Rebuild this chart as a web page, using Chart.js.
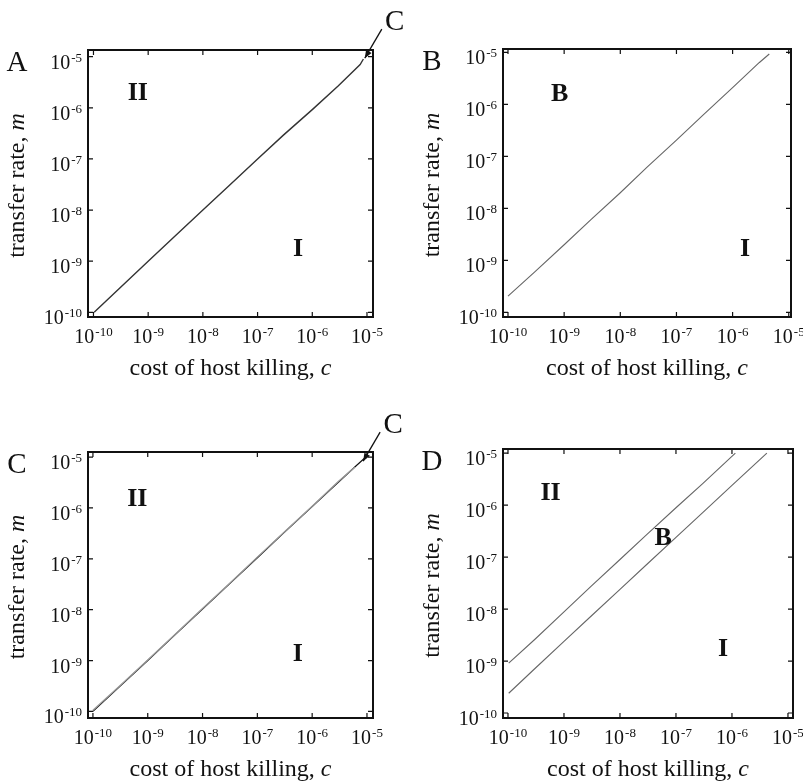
<!DOCTYPE html>
<html><head><meta charset="utf-8">
<script src="https://cdn.jsdelivr.net/npm/chart.js@4/dist/chart.umd.min.js"></script>
<style>
html,body{margin:0;padding:0;background:#fff;}
body{width:803px;height:782px;position:relative;overflow:hidden;}
canvas{position:absolute;}
</style></head><body>
<canvas id="cA" width="410" height="391" style="left:0;top:0"></canvas>
<canvas id="cB" width="403" height="391" style="left:400px;top:0"></canvas>
<canvas id="cC" width="410" height="391" style="left:0;top:391px"></canvas>
<canvas id="cD" width="403" height="391" style="left:400px;top:391px"></canvas>
<script>
// ---- data ----
const tickExponents = [-10, -9, -8, -7, -6, -5];
const xTitle = 'cost of host killing, ';
const xVar = 'c';
const yTitle = 'transfer rate, ';
const yVar = 'm';

// Panel A: boundary between regions I and II
const costA = [1.03e-10, 3e-10, 1e-9, 3e-9, 1e-8, 3e-8, 1e-7, 3e-7, 1e-6, 3e-6, 7.5e-6, 8.6e-6];
const rateA = [1.0e-10, 2.95e-10, 1.0e-9, 3.0e-9, 1.0e-8, 3.0e-8, 1.0e-7, 2.95e-7, 0.92e-6, 2.7e-6, 7.0e-6, 9.0e-6];

// Panel B: boundary between B and I
const costB = [1.0e-10, 3e-10, 1e-9, 3e-9, 1e-8, 3e-8, 1e-7, 3e-7, 1e-6, 3e-6, 4.5e-6];
const rateB = [2.05e-10, 6.0e-10, 2.0e-9, 6.1e-9, 2.0e-8, 6.2e-8, 2.05e-7, 6.3e-7, 2.1e-6, 6.4e-6, 9.3e-6];

// Panel C: two nearly coincident boundaries
const costC1 = [1.0e-10, 3e-10, 1e-9, 3e-9, 1e-8, 3e-8, 1e-7, 3e-7, 1e-6, 3e-6, 6e-6, 9e-6];
const rateC1 = [1.0e-10, 3.0e-10, 1.0e-9, 3.05e-9, 1.03e-8, 3.1e-8, 1.05e-7, 3.2e-7, 1.06e-6, 3.2e-6, 6.4e-6, 9.5e-6];
const costC2 = [1.0e-10, 3e-10, 1e-9, 3e-9, 1e-8, 3e-8, 1e-7, 3e-7, 1e-6, 3e-6, 6e-6];
const rateC2 = [1.05e-10, 3.1e-10, 1.02e-9, 3.1e-9, 1.05e-8, 3.15e-8, 1.08e-7, 3.25e-7, 1.08e-6, 3.3e-6, 6.3e-6];

// Panel D: upper (II / B) and lower (B / I) boundaries
const costDu = [1.03e-10, 3e-10, 1e-9, 3e-9, 1e-8, 3e-8, 1e-7, 3e-7, 1.15e-6];
const rateDu = [9.1e-10, 2.6e-9, 8.8e-9, 2.7e-8, 9.0e-8, 2.7e-7, 8.9e-7, 2.6e-6, 1.0e-5];
const costDl = [1.03e-10, 3e-10, 1e-9, 3e-9, 1e-8, 3e-8, 1e-7, 3e-7, 1e-6, 4.2e-6];
const rateDl = [2.4e-10, 7.1e-10, 2.4e-9, 7.2e-9, 2.4e-8, 7.2e-8, 2.4e-7, 7.2e-7, 2.4e-6, 1.0e-5];

// ---- drawing helpers ----
const SERIF = '"Liberation Serif", "Times New Roman", serif';
const INK = '#111';

function drawPow(ctx, e, x, y, align) {
  ctx.font = '20px ' + SERIF;
  const w1 = ctx.measureText('10').width;
  ctx.font = '13px ' + SERIF;
  const es = String(e);
  const w2 = ctx.measureText(es).width;
  const total = w1 + 1 + w2;
  const x0 = align === 'center' ? x - total / 2 : x - total;
  ctx.textAlign = 'left';
  ctx.textBaseline = 'alphabetic';
  ctx.font = '20px ' + SERIF;
  ctx.fillText('10', x0, y);
  ctx.font = '13px ' + SERIF;
  ctx.fillText(es, x0 + w1 + 1, y - 7);
}

const framePlugin = {
  id: 'frame',
  afterDraw(chart) {
    const ctx = chart.ctx;
    const a = chart.chartArea;
    const sx = chart.scales.x, sy = chart.scales.y;
    const o = chart.options.plugins.frame;
    ctx.save();
    ctx.fillStyle = INK;
    ctx.strokeStyle = INK;
    // frame
    ctx.lineWidth = 2;
    ctx.strokeRect(a.left, a.top, a.right - a.left, a.bottom - a.top);
    // inward ticks on all sides
    ctx.lineWidth = 1.2;
    const tl = 5;
    tickExponents.forEach(e => {
      const x = sx.getPixelForValue(Math.pow(10, e));
      const y = sy.getPixelForValue(Math.pow(10, e));
      ctx.beginPath();
      ctx.moveTo(x, a.bottom); ctx.lineTo(x, a.bottom - tl);
      ctx.moveTo(x, a.top); ctx.lineTo(x, a.top + tl);
      ctx.moveTo(a.left, y); ctx.lineTo(a.left + tl, y);
      ctx.moveTo(a.right, y); ctx.lineTo(a.right - tl, y);
      ctx.stroke();
      drawPow(ctx, e, x, a.bottom + 26, 'center');
      drawPow(ctx, e, a.left - 6, y + 12, 'right');
    });
    // x axis title
    const TF = '24px ' + SERIF, TFI = 'italic 24px ' + SERIF;
    ctx.font = TF;
    const w1 = ctx.measureText(xTitle).width;
    ctx.font = TFI;
    const w2 = ctx.measureText(xVar).width;
    const cx = (a.left + a.right) / 2;
    const by = a.bottom + 58;
    ctx.textAlign = 'left';
    ctx.textBaseline = 'alphabetic';
    ctx.font = TF;
    ctx.fillText(xTitle, cx - (w1 + w2) / 2, by);
    ctx.font = TFI;
    ctx.fillText(xVar, cx - (w1 + w2) / 2 + w1, by);
    // y axis title
    ctx.save();
    ctx.translate(a.left - 70, (a.top + a.bottom) / 2 + 2);
    ctx.rotate(-Math.PI / 2);
    ctx.font = TF;
    const v1 = ctx.measureText(yTitle).width;
    ctx.font = TFI;
    const v2 = ctx.measureText(yVar).width;
    ctx.textBaseline = 'middle';
    ctx.font = TF;
    ctx.fillText(yTitle, -(v1 + v2) / 2, 0);
    ctx.font = TFI;
    ctx.fillText(yVar, -(v1 + v2) / 2 + v1, 0);
    ctx.restore();
    // panel letter
    ctx.font = '29px ' + SERIF;
    ctx.textAlign = 'center';
    ctx.textBaseline = 'middle';
    ctx.fillText(o.letter, a.left - 71, a.top + 13);
    // region labels
    ctx.font = 'bold 26px ' + SERIF;
    o.regions.forEach(r => {
      ctx.fillText(r.text, sx.getPixelForValue(Math.pow(10, r.cx)), sy.getPixelForValue(Math.pow(10, r.my)));
    });
    // arrow annotation
    if (o.arrow) {
      const tx = sx.getPixelForValue(Math.pow(10, o.arrow.cx));
      const ty = sy.getPixelForValue(Math.pow(10, o.arrow.my));
      const fx = tx + 17, fy = ty - 29;
      ctx.lineWidth = 1.3;
      ctx.beginPath(); ctx.moveTo(fx, fy); ctx.lineTo(tx, ty); ctx.stroke();
      const ang = Math.atan2(ty - fy, tx - fx);
      const L = 8, W = 3.2;
      ctx.beginPath();
      ctx.moveTo(tx, ty);
      ctx.lineTo(tx - L * Math.cos(ang) + W * Math.sin(ang), ty - L * Math.sin(ang) - W * Math.cos(ang));
      ctx.lineTo(tx - L * Math.cos(ang) - W * Math.sin(ang), ty - L * Math.sin(ang) + W * Math.cos(ang));
      ctx.closePath(); ctx.fill();
      ctx.font = '29px ' + SERIF;
      ctx.fillText(o.arrow.text, tx + 30, ty - 36);
    }
    ctx.restore();
  }
};

function series(c, m, color, width) {
  return {
    data: c.map((v, i) => ({ x: v, y: m[i] })),
    showLine: true, borderColor: color, borderWidth: width,
    pointRadius: 0, fill: false, tension: 0
  };
}

function makePanel(id, pad, xr, yr, datasets, frame) {
  const axis = (r) => ({
    type: 'logarithmic', bounds: 'data',
    min: Math.pow(10, r[0]), max: Math.pow(10, r[1]),
    ticks: { display: false },
    grid: { display: false, drawTicks: false },
    border: { display: false },
    title: { display: false }
  });
  new Chart(document.getElementById(id), {
    type: 'scatter',
    data: { datasets },
    options: {
      responsive: false, animation: false,
      layout: { padding: pad },
      plugins: { legend: { display: false }, tooltip: { enabled: false }, frame },
      scales: { x: axis(xr), y: axis(yr) }
    },
    plugins: [framePlugin]
  });
}

makePanel('cA', { left: 88, top: 50, right: 37, bottom: 74 },
  [-10.1, -4.89], [-10.092, -4.87],
  [series(costA, rateA, '#333', 1.4)],
  { letter: 'A',
    regions: [{ text: 'II', cx: -9.19, my: -5.71 }, { text: 'I', cx: -6.26, my: -8.76 }],
    arrow: { text: 'C', cx: -5.04, my: -5.03 } });

makePanel('cB', { left: 103, top: 49, right: 12, bottom: 74 },
  [-10.089, -4.96], [-10.088, -4.935],
  [series(costB, rateB, '#666', 1.1)],
  { letter: 'B',
    regions: [{ text: 'B', cx: -9.08, my: -5.8 }, { text: 'I', cx: -5.78, my: -8.79 }] });

makePanel('cC', { left: 88, top: 61, right: 37, bottom: 64 },
  [-10.09, -4.89], [-10.13, -4.9],
  [series(costC2, rateC2, '#999', 1.3), series(costC1, rateC1, '#111', 1.2)],
  { letter: 'C',
    regions: [{ text: 'II', cx: -9.19, my: -5.82 }, { text: 'I', cx: -6.26, my: -8.88 }],
    arrow: { text: 'C', cx: -5.07, my: -5.08 } });

makePanel('cD', { left: 103, top: 58, right: 10, bottom: 64 },
  [-10.089, -4.91], [-10.096, -4.92],
  [series(costDu, rateDu, '#666', 1.1), series(costDl, rateDl, '#666', 1.1)],
  { letter: 'D',
    regions: [{ text: 'II', cx: -9.24, my: -5.78 }, { text: 'B', cx: -7.23, my: -6.63 }, { text: 'I', cx: -6.16, my: -8.78 }] });
</script>
</body></html>
